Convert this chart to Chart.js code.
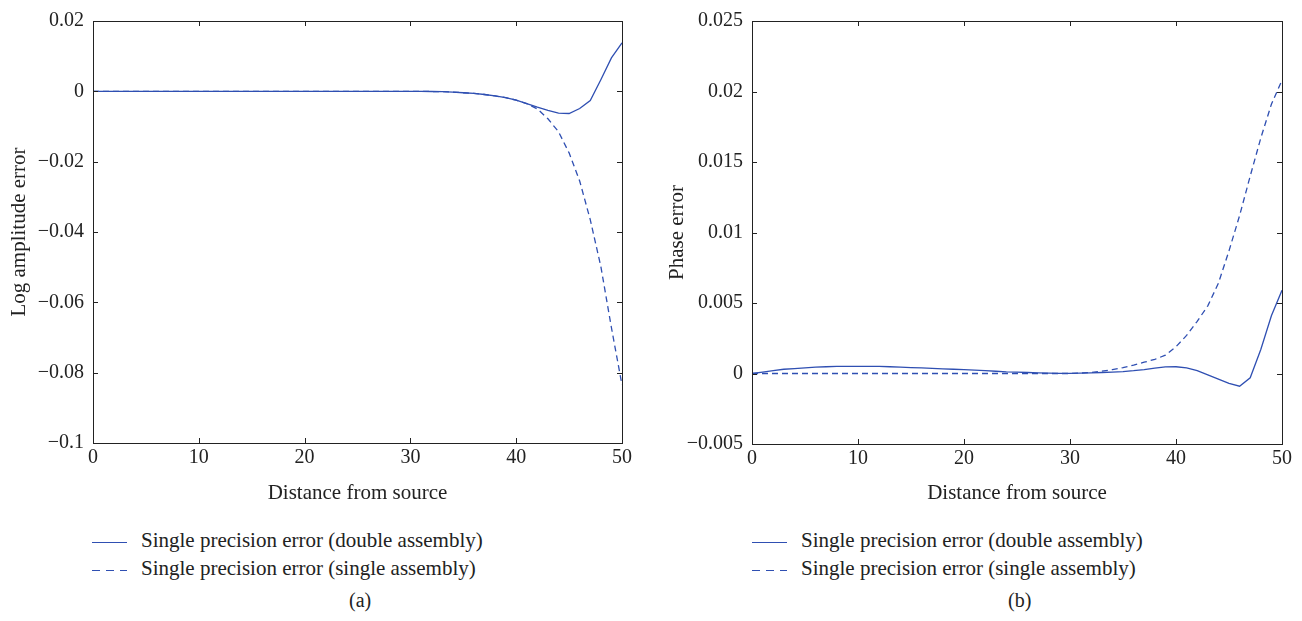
<!DOCTYPE html>
<html>
<head>
<meta charset="utf-8">
<script src="https://cdn.jsdelivr.net/npm/chart.js@4.4.1/dist/chart.umd.min.js"></script>
<style>
  body { margin: 0; background: #fff; width: 1302px; height: 621px; position: relative; overflow: hidden;
         font-family: "Liberation Serif", "DejaVu Serif", serif; color: #222; }
  .wrap { position: absolute; top: 0; width: 651px; height: 510px; }
  .legend { position: absolute; font-size: 21px; line-height: 28px; }
  .legend div { white-space: nowrap; }
  .legend i { display: inline-block; width: 35px; height: 1.3px; vertical-align: middle; margin-right: 14px; }
  .solid { background: #2f4fb2; }
  .dash { background: repeating-linear-gradient(to right, #2f4fb2 0 8px, transparent 8px 14px); }
  .cap { position: absolute; top: 589px; font-size: 20px; }
</style>
</head>
<body>
<div class="wrap" style="left:0"><canvas id="chartA"></canvas></div>
<div class="wrap" style="left:651px"><canvas id="chartB"></canvas></div>

<div class="legend" style="left:92px; top:526px">
  <div><i class="solid"></i>Single precision error (double assembly)</div>
  <div><i class="dash"></i>Single precision error (single assembly)</div>
</div>
<div class="legend" style="left:752px; top:526px">
  <div><i class="solid"></i>Single precision error (double assembly)</div>
  <div><i class="dash"></i>Single precision error (single assembly)</div>
</div>
<div class="cap" style="left:349px">(a)</div>
<div class="cap" style="left:1008px">(b)</div>

<script>
// distance from source, 0..50
const distance = Array.from({ length: 51 }, (_, i) => i);

// (a) log amplitude error
const ampDouble = [
  0, 0, 0, 0, 0, 0, 0, 0, 0, 0,
  0, 0, 0, 0, 0, 0, 0, 0, 0, 0,
  0, 0, 0, 0, 0, 0, 0, 0, 0, 0,
  0, 0, -0.00005, -0.0001, -0.0002, -0.0004, -0.0006, -0.0009, -0.0013, -0.0018,
  -0.0025, -0.0035, -0.0045, -0.0054, -0.0062, -0.0063, -0.0049, -0.0026, 0.0033, 0.0095,
  0.0138
];
const ampSingle = [
  0, 0, 0, 0, 0, 0, 0, 0, 0, 0,
  0, 0, 0, 0, 0, 0, 0, 0, 0, 0,
  0, 0, 0, 0, 0, 0, 0, 0, 0, 0,
  0, 0, -0.00005, -0.0001, -0.0002, -0.0004, -0.0006, -0.0009, -0.0013, -0.0018,
  -0.0025, -0.0035, -0.005, -0.0078, -0.0115, -0.0175, -0.0255, -0.0365, -0.0498, -0.0672,
  -0.0835
];

// (b) phase error
const phaseDouble = [
  0, 0.0001, 0.0002, 0.0003, 0.00035, 0.0004, 0.00045, 0.00048, 0.0005, 0.0005,
  0.0005, 0.0005, 0.0005, 0.00048, 0.00045, 0.00042, 0.0004, 0.00036, 0.00033, 0.0003,
  0.00027, 0.00024, 0.0002, 0.00016, 0.00012, 0.0001, 0.00007, 0.00004, 0.00002, 0.00001,
  0.00001, 0.00002, 0.00004, 0.00007, 0.0001, 0.00014, 0.0002, 0.00028, 0.00038, 0.00047,
  0.00048, 0.0004, 0.0002, -0.0001, -0.0004, -0.0007, -0.0009, -0.0003, 0.0017, 0.0041,
  0.0059
];
const phaseSingle = [
  0, 0, 0, 0, 0, 0, 0, 0, 0, 0,
  0, 0, 0, 0, 0, 0, 0, 0, 0, 0,
  0, 0, 0, 0, 0, 0, 0, 0, 0, 0,
  0, 0.00003, 0.00008, 0.00016, 0.00028, 0.00042, 0.0006, 0.0008, 0.001, 0.0013,
  0.0019, 0.0027, 0.0037, 0.0048, 0.0064, 0.0087, 0.0112, 0.014, 0.0167, 0.0191,
  0.0208
];

const lineColor = "#2f4fb2";
const serif = "'Liberation Serif', 'DejaVu Serif', serif";

// box round the plot with inward ticks on all four sides
const framePlugin = {
  id: "frame",
  afterDraw(chart) {
    const { ctx, chartArea: a, scales } = chart;
    ctx.save();
    ctx.strokeStyle = "#222";
    ctx.lineWidth = 1;
    ctx.strokeRect(a.left + 0.5, a.top + 0.5, a.right - a.left, a.bottom - a.top);
    ctx.beginPath();
    scales.x.ticks.forEach((t) => {
      const px = Math.round(scales.x.getPixelForValue(t.value)) + 0.5;
      ctx.moveTo(px, a.bottom); ctx.lineTo(px, a.bottom - 5);
      ctx.moveTo(px, a.top); ctx.lineTo(px, a.top + 5);
    });
    scales.y.ticks.forEach((t) => {
      const py = Math.round(scales.y.getPixelForValue(t.value)) + 0.5;
      ctx.moveTo(a.left, py); ctx.lineTo(a.left + 5, py);
      ctx.moveTo(a.right, py); ctx.lineTo(a.right - 5, py);
    });
    ctx.stroke();
    ctx.restore();
  },
};

const fmt = (v) => String(Number(v.toFixed(4))).replace("-", "\u2212");

function makeChart(id, solid, dashed, yTitle, yMin, yMax, yStep, pad) {
  return new Chart(document.getElementById(id), {
    type: "line",
    data: {
      labels: distance,
      datasets: [
        { label: "Single precision error (double assembly)", data: solid,
          borderColor: lineColor, borderWidth: 1.3, pointRadius: 0, tension: 0 },
        { label: "Single precision error (single assembly)", data: dashed,
          borderColor: lineColor, borderWidth: 1.3, borderDash: [6, 4], pointRadius: 0, tension: 0 },
      ],
    },
    options: {
      responsive: false,
      animation: false,
      layout: { padding: { top: pad.top, right: pad.right, left: pad.outer, bottom: 0 } },
      plugins: { legend: { display: false }, tooltip: { enabled: false } },
      scales: {
        x: {
          type: "linear", min: 0, max: 50,
          ticks: { stepSize: 10, color: "#222", font: { family: serif, size: 20 }, padding: 3 },
          grid: { display: false, drawTicks: false },
          border: { display: false },
          title: { display: true, text: "Distance from source", color: "#222",
                   font: { family: serif, size: 21 }, padding: { top: 4 } },
          afterFit: (s) => { s.height = 510 - pad.bottom; },
        },
        y: {
          min: yMin, max: yMax,
          ticks: { stepSize: yStep, color: "#222", font: { family: serif, size: 20 }, padding: 9,
                   callback: (v) => fmt(v) },
          grid: { display: false, drawTicks: false },
          border: { display: false },
          title: { display: true, text: yTitle, color: "#222",
                   font: { family: serif, size: 21 }, padding: { top: 4, bottom: 0 } },
          afterFit: (s) => { s.width = pad.left - pad.outer; },
        },
      },
    },
    plugins: [framePlugin],
  });
}

const cA = document.getElementById("chartA"); cA.width = 651; cA.height = 510;
const cB = document.getElementById("chartB"); cB.width = 651; cB.height = 510;

makeChart("chartA", ampDouble, ampSingle, "Log amplitude error", -0.1, 0.02, 0.02,
  { top: 19, right: 651 - 622, left: 93, outer: 3, bottom: 443 });
makeChart("chartB", phaseDouble, phaseSingle, "Phase error", -0.005, 0.025, 0.005,
  { top: 12, right: 651 - 1282 + 651, left: 752 - 651, outer: 10, bottom: 444 });
</script>
</body>
</html>
